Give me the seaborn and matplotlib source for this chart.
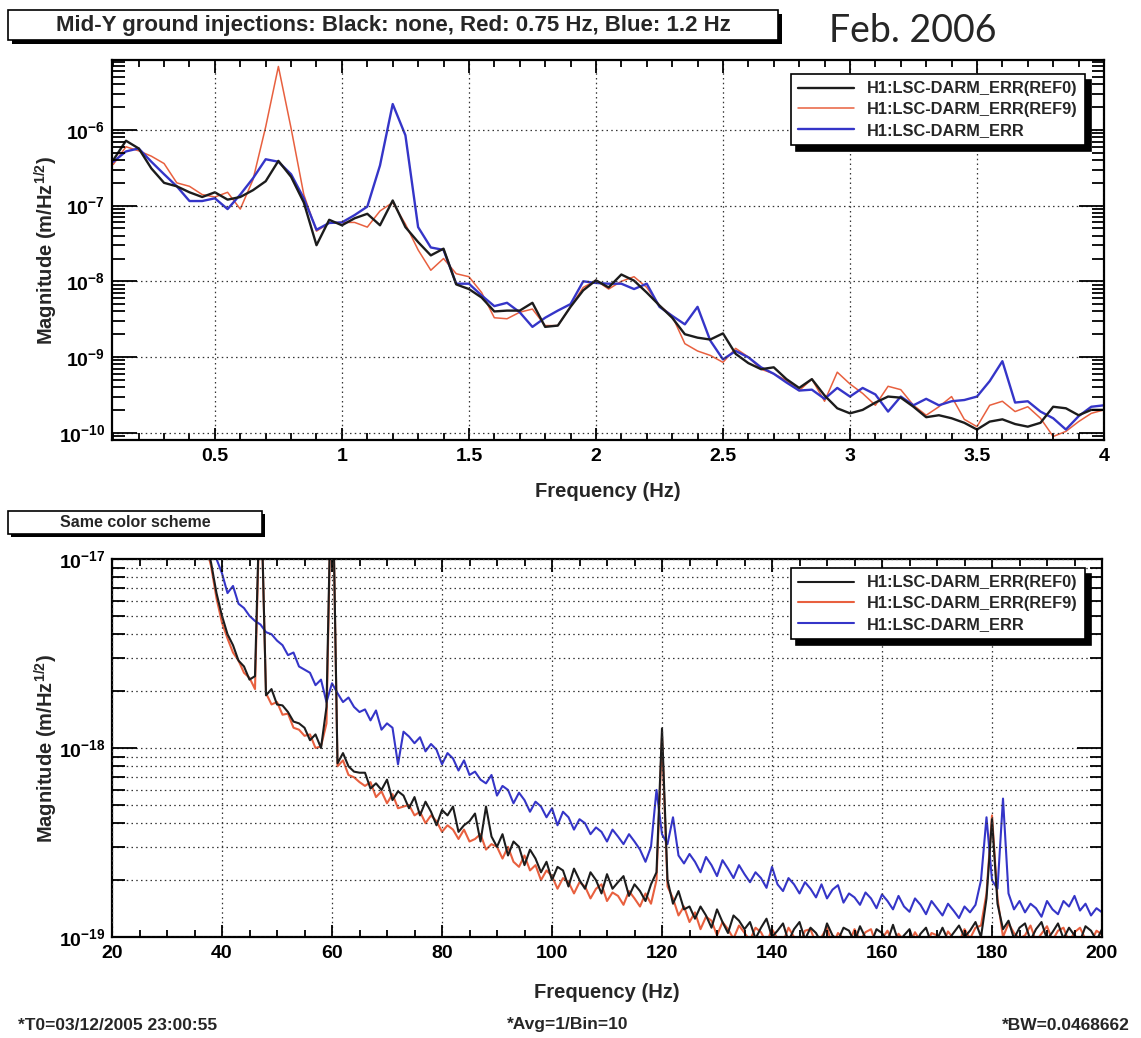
import numpy as np
import pandas as pd
import matplotlib
matplotlib.use("Agg")
import matplotlib.pyplot as plt
import seaborn as sns
from matplotlib.patches import Rectangle
from matplotlib.ticker import LogLocator, FixedLocator, MultipleLocator, FuncFormatter, NullFormatter

# ---------------- data ----------------
labels = ["H1:LSC-DARM_ERR(REF0)", "H1:LSC-DARM_ERR(REF9)", "H1:LSC-DARM_ERR"]
colors = ["#1c1c1c", "#e8603f", "#3535c8"]

# upper panel: 0.10 ... 4.00 Hz, 0.05 Hz bins, magnitude in m/Hz^1/2
freq_low = np.round(np.arange(0.10, 4.0001, 0.05), 2)
ref0_low = [4.0e-7, 7.2e-7, 5.7e-7, 3.1e-7, 2.0e-7, 1.8e-7, 1.5e-7, 1.3e-7, 1.5e-7, 1.2e-7,
            1.3e-7, 1.6e-7, 2.1e-7, 3.9e-7, 2.4e-7, 1.1e-7, 3.0e-8, 6.5e-8, 5.5e-8, 6.8e-8,
            7.8e-8, 5.5e-8, 1.17e-7, 5.2e-8, 3.3e-8, 2.2e-8, 2.7e-8, 9.1e-9, 7.9e-9, 6.1e-9,
            4.0e-9, 4.1e-9, 4.1e-9, 5.2e-9, 2.5e-9, 2.6e-9, 4.6e-9, 7.6e-9, 1.03e-8, 8.3e-9,
            1.23e-8, 1.02e-8, 7.1e-9, 4.8e-9, 3.3e-9, 2.0e-9, 1.8e-9, 1.7e-9, 2.05e-9, 1.1e-9,
            8.3e-10, 6.9e-10, 7.3e-10, 5.1e-10, 3.9e-10, 5.1e-10, 3.1e-10, 2.1e-10, 1.8e-10, 2.0e-10,
            2.5e-10, 3.0e-10, 2.9e-10, 2.2e-10, 1.6e-10, 1.7e-10, 1.55e-10, 1.35e-10, 1.1e-10, 1.4e-10,
            1.5e-10, 1.3e-10, 1.2e-10, 1.35e-10, 2.2e-10, 2.1e-10, 1.7e-10, 2.0e-10, 2.0e-10]
ref9_low = [3.5e-7, 6.0e-7, 5.3e-7, 4.5e-7, 3.6e-7, 2.0e-7, 1.8e-7, 1.4e-7, 1.3e-7, 1.5e-7,
            9.0e-8, 2.2e-7, 1.1e-6, 6.9e-6, 1.05e-6, 1.4e-7, 4.6e-8, 5.9e-8, 6.0e-8, 6.0e-8,
            5.2e-8, 8.5e-8, 1.1e-7, 5.7e-8, 2.6e-8, 1.4e-8, 2.0e-8, 1.26e-8, 1.15e-8, 7.1e-9,
            3.3e-9, 3.2e-9, 3.9e-9, 4.3e-9, 2.6e-9, 2.6e-9, 4.6e-9, 8.3e-9, 1.03e-8, 7.9e-9,
            1.0e-8, 1.15e-8, 8.3e-9, 4.8e-9, 3.5e-9, 1.5e-9, 1.2e-9, 1.05e-9, 8.5e-10, 1.3e-9,
            1.0e-9, 6.9e-10, 6.0e-10, 4.9e-10, 3.6e-10, 5.1e-10, 2.6e-10, 6.3e-10, 4.4e-10, 3.3e-10,
            2.3e-10, 4.1e-10, 3.7e-10, 2.3e-10, 1.7e-10, 2.2e-10, 3.0e-10, 1.5e-10, 1.2e-10, 2.3e-10,
            2.6e-10, 1.9e-10, 2.2e-10, 1.55e-10, 8.9e-11, 1.04e-10, 1.4e-10, 1.8e-10, 2.0e-10]
err_low = [3.8e-7, 5.2e-7, 5.7e-7, 3.8e-7, 2.6e-7, 1.8e-7, 1.15e-7, 1.15e-7, 1.25e-7, 9.0e-8,
           1.4e-7, 2.3e-7, 4.1e-7, 3.8e-7, 2.6e-7, 1.25e-7, 4.8e-8, 5.9e-8, 6.0e-8, 7.5e-8,
           9.7e-8, 3.4e-7, 2.2e-6, 8.5e-7, 5.2e-8, 2.8e-8, 2.6e-8, 9.3e-9, 9.3e-9, 6.5e-9,
           4.7e-9, 5.2e-9, 3.9e-9, 2.5e-9, 3.3e-9, 4.1e-9, 5.0e-9, 1.0e-8, 9.5e-9, 9.3e-9,
           9.3e-9, 7.9e-9, 9.3e-9, 4.6e-9, 3.5e-9, 2.7e-9, 4.6e-9, 1.65e-9, 9.3e-10, 1.2e-9,
           9.9e-10, 7.3e-10, 6.0e-10, 4.6e-10, 3.6e-10, 3.7e-10, 2.8e-10, 3.9e-10, 3.0e-10, 3.9e-10,
           3.2e-10, 1.9e-10, 3.0e-10, 2.3e-10, 2.8e-10, 2.3e-10, 2.6e-10, 2.7e-10, 3.0e-10, 4.8e-10,
           8.8e-10, 2.5e-10, 2.6e-10, 1.9e-10, 1.55e-10, 1.1e-10, 1.65e-10, 2.2e-10, 2.3e-10]

# lower panel: 36 ... 200 Hz, 1 Hz bins, magnitude in units of 1e-19 m/Hz^1/2
freq_high = np.arange(36, 201, 1)
ref0_high = [170, 128, 96, 66, 50, 40, 35, 29, 27, 23,
             24, 300, 19, 20.5, 17, 16.8, 15.5, 13.8, 13.5, 12.8,
             11.0, 11.8, 10.0, 16.5, 450, 8.3, 9.4, 8.0, 7.5, 7.4,
             7.4, 6.1, 6.5, 6.0, 6.8, 5.3, 5.9, 5.6, 4.8, 5.5,
             4.4, 5.2, 4.6, 3.9, 4.7, 4.4, 4.9, 3.6, 3.9, 4.1,
             4.5, 3.2, 4.9, 3.4, 3.0, 3.5, 2.7, 3.2, 3.0, 2.4,
             2.9, 2.6, 2.2, 2.5, 2.0, 2.35, 2.25, 1.85, 2.3, 2.0,
             1.8, 2.2, 2.0, 1.7, 2.15, 1.8, 1.95, 2.1, 1.65, 1.9,
             1.75, 1.55, 1.9, 2.2, 12.7, 2.0, 1.5, 1.75, 1.4, 1.45,
             1.25, 1.45, 1.3, 1.12, 1.4, 1.2, 1.05, 1.3, 1.22, 1.1,
             1.2, 0.98, 1.12, 1.25, 1.0, 1.08, 1.18, 0.95, 1.1, 1.2,
             0.97, 1.12, 1.05, 0.93, 1.18, 1.02, 0.96, 1.12, 1.08, 0.94,
             1.14, 0.99, 0.92, 1.1, 1.05, 0.95, 1.16, 0.94, 1.02, 1.1,
             0.9, 1.04, 1.12, 0.92, 0.97, 1.12, 0.96, 1.05, 1.15, 1.0,
             1.08, 1.2, 1.0, 1.6, 4.2, 1.5, 1.1, 1.22, 0.98, 1.12,
             1.18, 0.96, 1.1, 1.2, 0.97, 1.06, 1.18, 0.98, 1.12, 1.02,
             0.95, 1.14, 1.08, 0.96, 1.1]
ref9_high = [165, 120, 92, 62, 46, 38, 32, 29, 25, 23.5,
             20.5, 280, 19.5, 17, 17.5, 15.0, 15.2, 12.8, 12.5, 11.6,
             11.8, 10.0, 10.2, 13.5, 430, 8.0, 8.6, 7.2, 7.0, 6.6,
             6.3, 6.6, 5.5, 5.9, 5.1, 5.7, 4.8, 4.9, 5.0, 4.4,
             4.6, 4.0, 4.4, 4.1, 3.6, 3.9, 3.7, 3.3, 3.7, 3.2,
             3.3, 3.5, 2.9, 3.1, 3.0, 2.6, 3.0, 2.5, 2.35, 2.7,
             2.25, 2.4, 2.0, 2.25, 2.1, 1.8, 2.05, 1.95, 1.7, 1.95,
             1.85, 1.6, 1.8, 1.9, 1.55, 1.72, 1.65, 1.48, 1.75, 1.6,
             1.45, 1.7, 1.5, 2.0, 11.5, 1.85, 1.6, 1.3, 1.45, 1.2,
             1.35, 1.1, 1.28, 1.22, 1.02, 1.2, 1.1, 0.98, 1.15, 1.05,
             0.96, 1.12, 1.06, 0.93, 1.1, 0.98, 0.94, 1.12, 1.0, 0.92,
             1.08, 1.1, 0.92, 1.0, 1.12, 0.9, 1.05, 0.98, 0.92, 1.1,
             0.96, 1.06, 1.1, 0.9, 0.98, 1.08, 0.92, 1.04, 0.96, 0.9,
             1.06, 0.95, 0.9, 1.05, 1.02, 0.91, 1.07, 0.98, 0.94, 1.1,
             0.98, 1.12, 1.15, 1.7, 4.4, 1.6, 1.0, 1.18, 1.05, 0.98,
             1.02, 1.15, 0.95, 1.04, 1.14, 0.96, 1.08, 1.12, 0.94, 1.06,
             1.12, 0.97, 0.94, 1.08, 1.03]
err_high = [250, 180, 135, 100, 84, 66, 72, 58, 55, 50,
            47, 45, 41, 40, 37, 35, 31, 32, 27, 26,
            25, 21.5, 23, 17.5, 22, 19.5, 17.5, 18.5, 16.5, 15.5,
            16.0, 14.0, 15.8, 12.5, 13.5, 12.8, 8.2, 12.2, 11.5, 10.6,
            11.4, 9.6, 10.5, 9.8, 8.2, 9.4, 8.8, 7.6, 8.6, 7.2,
            7.5, 6.8, 6.5, 7.2, 5.6, 6.3, 6.0, 5.1, 5.8, 5.3,
            4.6, 5.2, 4.9, 4.3, 4.8, 3.9, 4.6, 4.3, 3.7, 4.2,
            4.0, 3.5, 3.8, 3.6, 3.2, 3.7, 3.4, 3.1, 3.5, 3.2,
            2.9, 2.5, 3.0, 6.0, 3.5, 3.1, 4.3, 2.7, 2.45, 2.75,
            2.5, 2.2, 2.65, 2.4, 2.1, 2.55, 2.3, 2.05, 2.4, 2.15,
            1.95, 2.2, 2.05, 1.82, 2.35, 1.9, 1.75, 2.05, 1.9, 1.7,
            1.95, 1.8, 1.62, 1.9, 1.6, 1.78, 1.88, 1.52, 1.7, 1.62,
            1.48, 1.72, 1.6, 1.42, 1.68, 1.55, 1.4, 1.65, 1.45, 1.36,
            1.6, 1.48, 1.32, 1.55, 1.42, 1.3, 1.5, 1.38, 1.26, 1.45,
            1.35, 1.48, 2.0, 4.3, 2.0, 1.8, 5.4, 1.7, 1.4, 1.55,
            1.35, 1.5, 1.42, 1.28, 1.55, 1.4, 1.32, 1.55, 1.45, 1.65,
            1.38, 1.5, 1.3, 1.42, 1.35]
high_unit = 1e-19

low_xticks = [0.5, 1, 1.5, 2, 2.5, 3, 3.5, 4]
high_xticks = [20, 40, 60, 80, 100, 120, 140, 160, 180, 200]
low_yticks = [1e-10, 1e-9, 1e-8, 1e-7, 1e-6]
high_yticks = [1e-19, 1e-18, 1e-17]

title_text = "Mid-Y ground injections: Black: none, Red: 0.75 Hz, Blue: 1.2 Hz"
date_text = "Feb. 2006"
sub_text = "Same color scheme"
foot_left = "*T0=03/12/2005 23:00:55"
foot_mid = "*Avg=1/Bin=10"
foot_right = "*BW=0.0468662"

# ---------------- style ----------------
sns.set_theme(style="white")
plt.rcParams["font.family"] = ["Liberation Sans", "DejaVu Sans"]
plt.rcParams["font.weight"] = "bold"
plt.rcParams["axes.labelweight"] = "bold"
plt.rcParams["mathtext.fontset"] = "custom"
plt.rcParams["mathtext.rm"] = "Liberation Sans:bold"
plt.rcParams["mathtext.bf"] = "Liberation Sans:bold"
plt.rcParams["mathtext.it"] = "Liberation Sans:bold:italic"
plt.rcParams["mathtext.default"] = "rm"

W, H = 1141, 1038
fig = plt.figure(figsize=(W / 100, H / 100), dpi=100)
fig.patch.set_facecolor("white")


def px_rect(x0, y0, x1, y1):
    return [x0 / W, 1 - y1 / H, (x1 - x0) / W, (y1 - y0) / H]


ax1 = fig.add_axes(px_rect(112, 60, 1104, 440))
ax2 = fig.add_axes(px_rect(112, 559, 1102, 937))

low_series = [ref0_low, ref9_low, err_low]
high_series = [np.array(v) * high_unit for v in (ref0_high, ref9_high, err_high)]
low_lw = [1.7, 1.1, 1.7]
high_lw = [1.5, 1.5, 1.5]
draw_order = [1, 2, 0]  # red, blue, then black on top

for ax, fx, series, lws in ((ax1, freq_low, low_series, low_lw),
                            (ax2, freq_high, high_series, high_lw)):
    handles = {}
    for i in draw_order:
        sns.lineplot(x=fx, y=series[i], ax=ax, color=colors[i], lw=lws[i],
                     errorbar=None, estimator=None, sort=False)
        handles[i] = ax.lines[-1]
    ax.set_yscale("log")
    hs = [handles[i] for i in range(3)]
    leg = ax.legend(hs, labels, loc="upper right", frameon=True, fancybox=False,
                    framealpha=1, edgecolor="black", facecolor="white",
                    fontsize=11.8, handlelength=3.4, handletextpad=0.8,
                    labelspacing=0.35, borderpad=0.45, borderaxespad=0,
                    shadow={"ox": 4, "oy": -4, "facecolor": "black",
                            "edgecolor": "black", "alpha": 1})
    leg.get_frame().set_linewidth(1.2)
    for t in leg.get_texts():
        t.set_fontweight("bold")

ax1.get_legend().set_bbox_to_anchor((0.981, 0.963), transform=ax1.transAxes)
ax2.get_legend().set_bbox_to_anchor((0.983, 0.976), transform=ax2.transAxes)

ax1.set_xlim(0.095, 4.0)
ax1.set_ylim(8e-11, 8.4e-6)
ax2.set_xlim(20, 200)
ax2.set_ylim(1e-19, 1e-17)

decade_fmt = FuncFormatter(lambda v, p: r"$10^{%d}$" % int(round(np.log10(v))))
num_fmt = FuncFormatter(lambda v, p: "%g" % v)
ax1.xaxis.set_major_locator(FixedLocator(low_xticks))
ax1.xaxis.set_minor_locator(MultipleLocator(0.1))
ax2.xaxis.set_major_locator(FixedLocator(high_xticks))
ax2.xaxis.set_minor_locator(MultipleLocator(5))
ax1.yaxis.set_major_locator(FixedLocator(low_yticks))
ax2.yaxis.set_major_locator(FixedLocator(high_yticks))

for ax in (ax1, ax2):
    ax.xaxis.set_major_formatter(num_fmt)
    ax.xaxis.set_minor_formatter(NullFormatter())
    ax.yaxis.set_minor_locator(LogLocator(base=10, subs=np.arange(2, 10), numticks=20))
    ax.yaxis.set_major_formatter(decade_fmt)
    ax.yaxis.set_minor_formatter(NullFormatter())
    ax.set_facecolor("white")
    for s in ax.spines.values():
        s.set_linewidth(1.6)
        s.set_color("black")
        s.set_visible(True)
    ax.tick_params(which="both", direction="in", top=True, right=True,
                   bottom=True, left=True, colors="black", width=1.3)
    ax.tick_params(axis="y", which="major", length=18, pad=5, labelsize=14)
    ax.tick_params(axis="y", which="minor", length=9)
    ax.tick_params(axis="x", which="major", length=9, pad=6, labelsize=14)
    ax.tick_params(axis="x", which="minor", length=5)
    for lab in ax.get_xticklabels() + ax.get_yticklabels():
        lab.set_fontweight("bold")
    ax.grid(True, which="major", axis="both", color="#333333",
            linestyle=(0, (1.2, 2.6)), linewidth=0.9)
    ax.set_ylabel(r"Magnitude (m/Hz$^{1/2}$)", fontsize=14.5, fontweight="bold")
    ax.set_axisbelow(False)

ax1.set_xlabel("Frequency (Hz)", fontsize=14.5, fontweight="bold", labelpad=12)
ax2.set_xlabel("Frequency (Hz)", fontsize=14.5, fontweight="bold", labelpad=15)
ax1.yaxis.set_label_coords(-(112 - 60) / 992, 0.5)
ax2.yaxis.set_label_coords(-(112 - 60) / 990, 0.5)
ax2.grid(True, which="minor", axis="y", color="#333333",
         linestyle=(0, (1.2, 2.6)), linewidth=0.9)


def shadow_box(x0, y0, x1, y1, off=4):
    fig.patches.append(Rectangle(((x0 + off) / W, 1 - (y1 + off) / H), (x1 - x0) / W,
                                 (y1 - y0) / H, transform=fig.transFigure,
                                 facecolor="black", edgecolor="black", lw=0, zorder=1))
    fig.patches.append(Rectangle((x0 / W, 1 - y1 / H), (x1 - x0) / W, (y1 - y0) / H,
                                 transform=fig.transFigure, facecolor="white",
                                 edgecolor="black", lw=1.2, zorder=2))


shadow_box(8, 10, 778, 40)
fig.text(393 / W, 1 - 25 / H, title_text, ha="center", va="center",
         fontsize=16, fontweight="bold", zorder=3)
fig.text(913 / W, 1 - 31 / H, date_text, ha="center", va="center",
         fontsize=27, fontweight="normal", family=["Lato", "DejaVu Sans"], zorder=3)
shadow_box(8, 511, 262, 534, off=3)
fig.text(135 / W, 1 - 522.5 / H, sub_text, ha="center", va="center",
         fontsize=11.5, fontweight="bold", zorder=3)
fig.text(18 / W, 1 - 1025 / H, foot_left, ha="left", va="center", fontsize=12.5, fontweight="bold")
fig.text(568 / W, 1 - 1025 / H, foot_mid, ha="center", va="center", fontsize=12.5, fontweight="bold")
fig.text(1130 / W, 1 - 1025 / H, foot_right, ha="right", va="center", fontsize=12.5, fontweight="bold")

fig.savefig("out.png", dpi=100, facecolor="white")
